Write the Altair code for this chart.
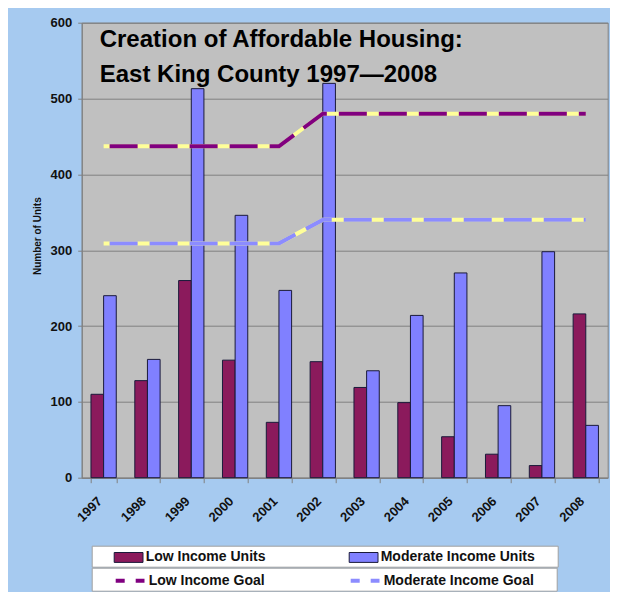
import altair as alt
import pandas as pd

years = ["1997", "1998", "1999", "2000", "2001", "2002",
         "2003", "2004", "2005", "2006", "2007", "2008"]
low_units = [110, 128, 260, 155, 73, 153, 119, 99, 54, 31, 16, 216]
mod_units = [240, 156, 513, 346, 247, 520, 141, 214, 270, 95, 298, 69]
low_goal = [437, 437, 437, 437, 437, 480, 480, 480, 480, 480, 480, 480]
mod_goal = [309, 309, 309, 309, 309, 340, 340, 340, 340, 340, 340, 340]

bar_names = ["Low Income Units", "Moderate Income Units"]
bar_colors = ["#8B1A5C", "#8080FF"]
goal_names = ["Low Income Goal", "Moderate Income Goal"]
goal_colors = ["#800080", "#8C8CFF"]
title_lines = ["Creation of Affordable Housing:", "East King County 1997\u20142008"]
y_ticks = [0, 100, 200, 300, 400, 500, 600]

bars_df = pd.DataFrame({
    "year": years + years,
    "series": [bar_names[0]] * len(years) + [bar_names[1]] * len(years),
    "value": low_units + mod_units,
})
goals_df = pd.DataFrame({
    "year": years + years,
    "series": [goal_names[0]] * len(years) + [goal_names[1]] * len(years),
    "value": low_goal + mod_goal,
})

FONT = "Liberation Sans"

x_enc = alt.X(
    "year:N", sort=years,
    scale=alt.Scale(paddingInner=0.423, paddingOuter=0.2115),
    axis=alt.Axis(title=None, labelAngle=-45, labelAlign="right", labelBaseline="middle",
                  labelFont=FONT, labelFontSize=13, labelFontWeight="bold", labelColor="#111111",
                  labelPadding=16, labelOffset=-4, tickBand="extent", tickSize=5,
                  tickColor="#808080", domainColor="#808080", grid=False),
)
y_enc = alt.Y(
    "value:Q",
    scale=alt.Scale(domain=[0, 600], nice=False),
    axis=alt.Axis(title="Number of Units", values=y_ticks, titleFont=FONT, titleFontSize=10,
                  titleFontWeight="bold", titleColor="#111111", titlePadding=8, titleY=213,
                  labelFont=FONT, labelFontSize=13, labelFontWeight="bold", labelColor="#111111",
                  labelPadding=6, tickSize=4, tickColor="#808080", domainColor="#808080",
                  grid=True, gridColor="#808080", gridWidth=1),
)

PAD = "\u2800"
common_leg = dict(
    title=None, orient="none", columns=2, padding=2, symbolOffset=20, labelOffset=13,
    symbolSize=324, labelFont=FONT, labelFontSize=14, labelFontWeight="bold",
    labelColor="#111111", labelLimit=260, fillColor="white", strokeColor="#a0a0a0",
    legendX=10,
)
leg_bars = alt.Legend(
    legendY=523, columnPadding=63, symbolType="M-1,-0.55H2.2V0.55H-1Z",
    symbolStrokeColor="#1a1a3a", symbolStrokeWidth=1,
    labelExpr=f"indexof(datum.label, 'Moderate') >= 0 ? datum.label + '{PAD * 2}' : datum.label",
    **common_leg,
)
leg_goals = alt.Legend(
    legendY=545, columnPadding=64, symbolType="M-1,0H2.2",
    symbolStrokeWidth=4, symbolDash=[9, 11, 9],
    labelExpr=f"indexof(datum.label, 'Moderate') >= 0 ? datum.label + '{PAD * 2}' : datum.label",
    **common_leg,
)

bars = alt.Chart(bars_df).mark_bar(stroke="#1a1a3a", strokeWidth=1).encode(
    x=x_enc,
    xOffset=alt.XOffset("series:N", sort=bar_names),
    y=y_enc,
    color=alt.Color("series:N", scale=alt.Scale(domain=bar_names, range=bar_colors),
                    legend=leg_bars),
)
yellow = alt.Chart(goals_df).mark_line(color="#FFFF99", strokeWidth=4).encode(
    x=x_enc, y=y_enc, detail="series:N",
)
goals = alt.Chart(goals_df).mark_line(strokeWidth=4, strokeDash=[28, 12],
                                      strokeDashOffset=34).encode(
    x=x_enc, y=y_enc,
    stroke=alt.Stroke("series:N", scale=alt.Scale(domain=goal_names, range=goal_colors),
                      legend=leg_goals),
)

chart = alt.layer(bars, yellow, goals).properties(
    width=526, height=455,
    autosize=alt.AutoSizeParams(type="none"),
    padding={"left": 73.7, "top": 14.7, "right": 2.3, "bottom": 114.3},
    background="#A6CAF0",
    title=alt.TitleParams(
        text=title_lines, anchor="start", frame="group", orient="top",
        offset=0, dx=18, dy=70, baseline="top", font=FONT, fontSize=24,
        fontWeight="bold", color="#000000", lineHeight=35,
    ),
).configure_view(fill="#C0C0C0", stroke="#808080", strokeWidth=1)

chart.save("out.html", embed_options={"renderer": "svg", "actions": False})
